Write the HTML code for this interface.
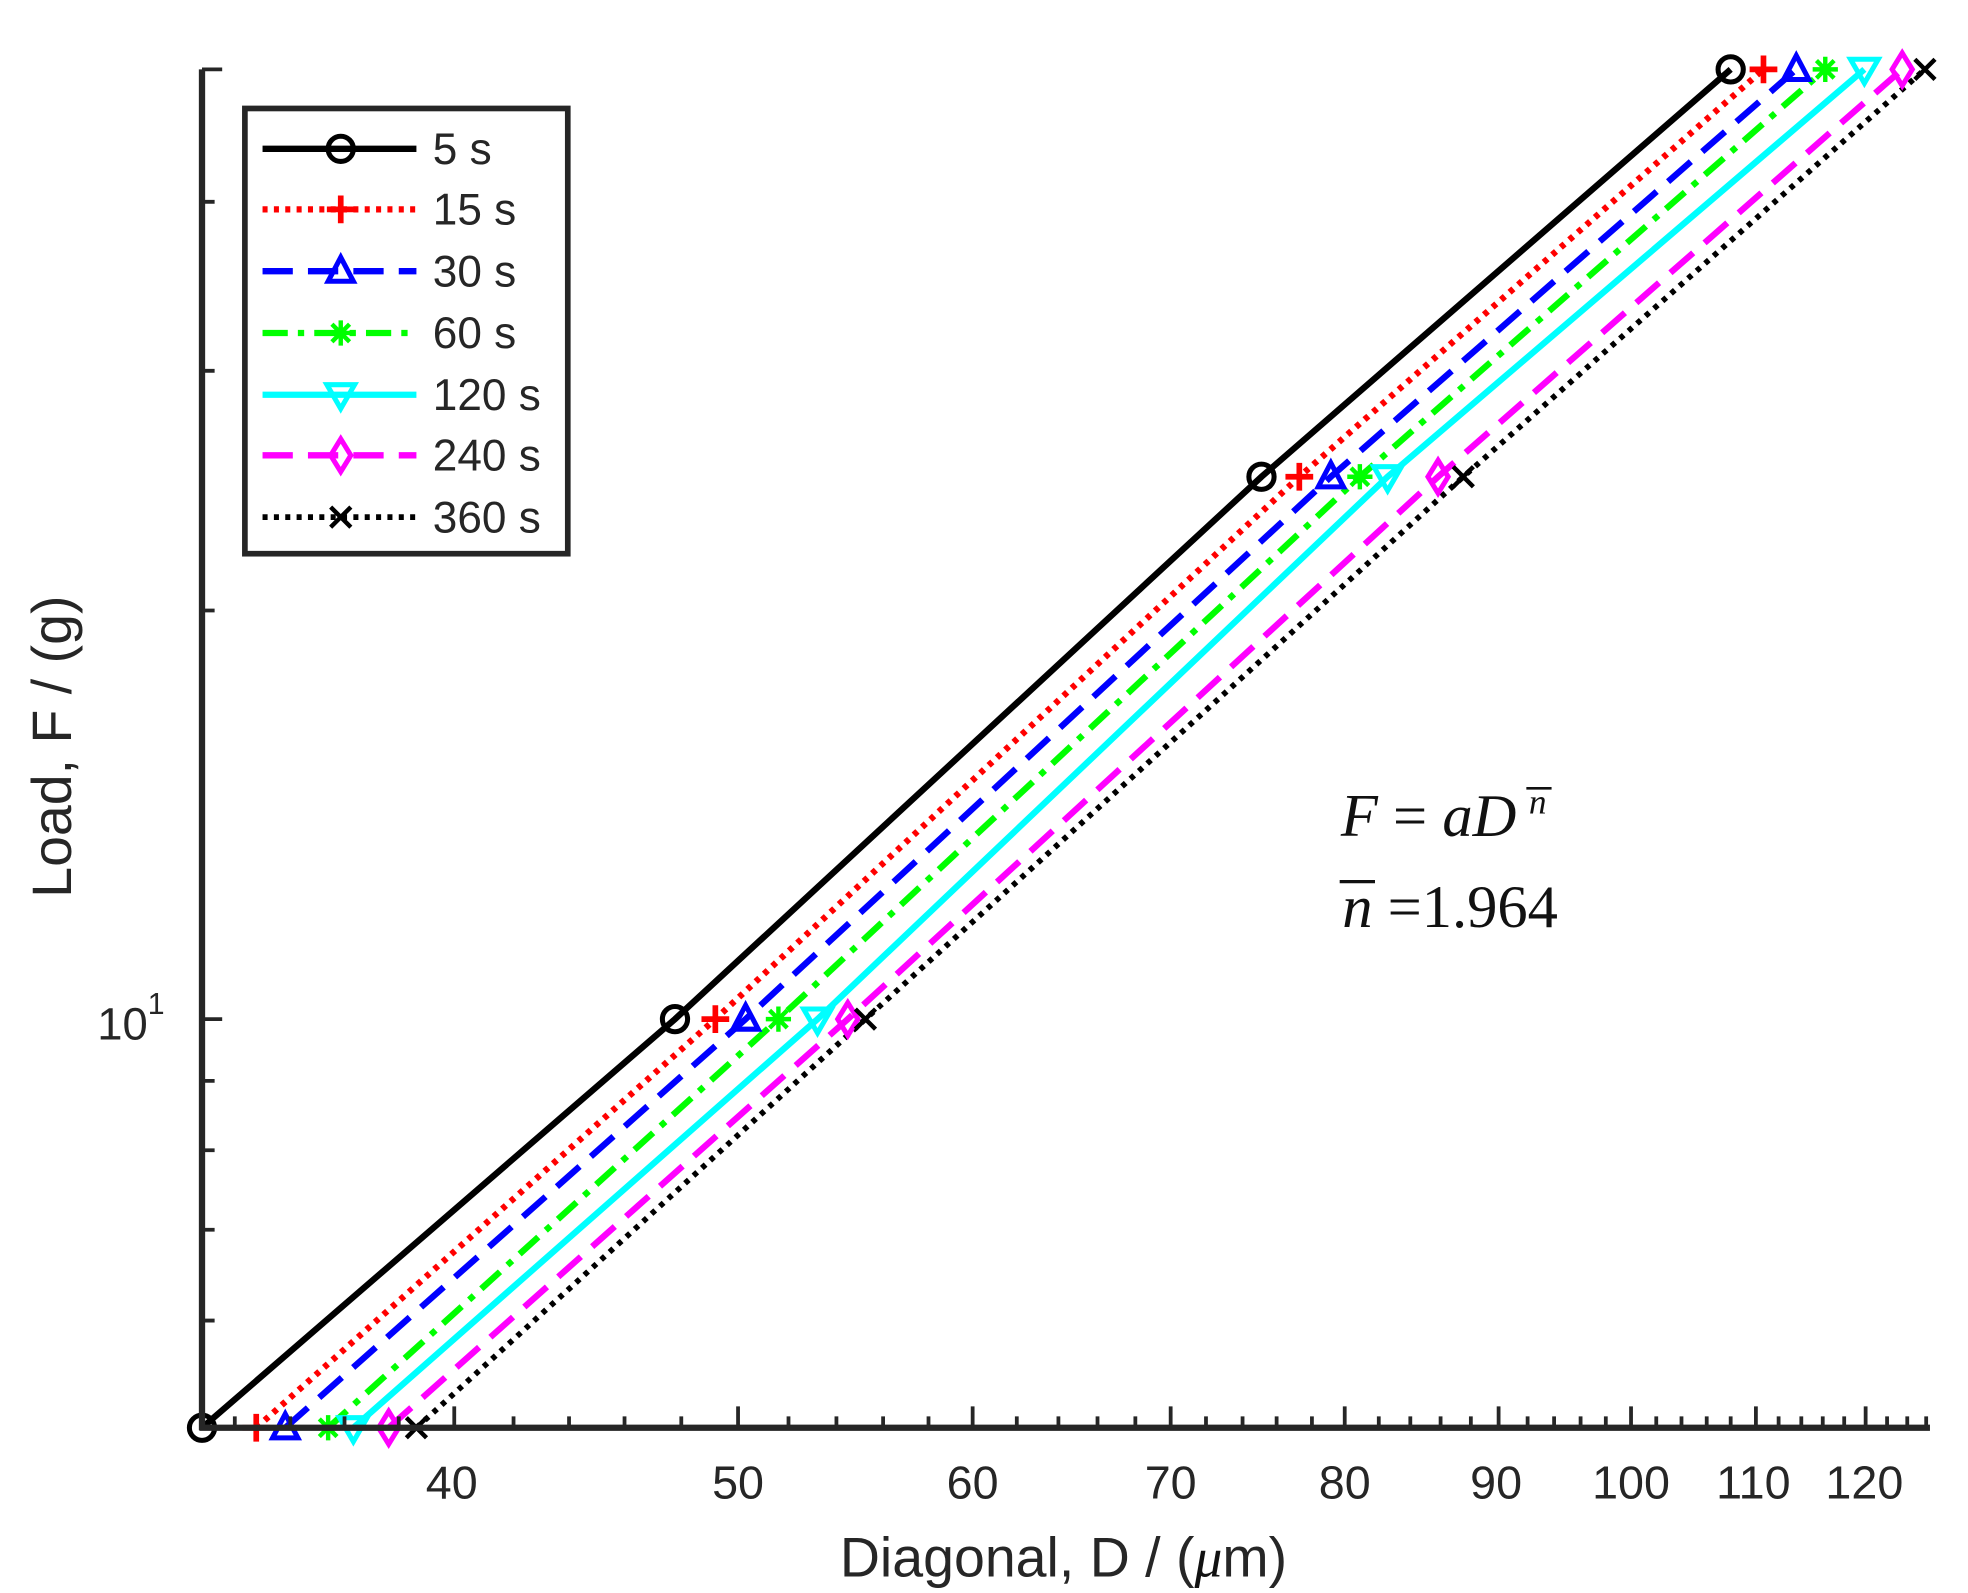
<!DOCTYPE html>
<html><head><meta charset="utf-8"><style>
html,body{margin:0;padding:0;background:#fff;}
svg{display:block;}
text{font-family:"Liberation Sans",sans-serif;fill:#262626;}
.s{font-family:"Liberation Serif",serif;fill:#111;}
</style></head><body>
<svg width="1968" height="1593" viewBox="0 0 1560 1263" xmlns="http://www.w3.org/2000/svg">
<defs>
<g id="mo"><circle cx="0" cy="0" r="10" fill="none" stroke="#000" stroke-width="4"/></g>
<g id="mp"><path d="M-11 0H11M0 -11V11" stroke="#f00" stroke-width="4.5"/></g>
<g id="mt"><path d="M0 -11L10 8H-10Z" fill="none" stroke="#00f" stroke-width="4"/></g>
<g id="ms"><path d="M-10 0H10M0 -10V10M-7 -7L7 7M-7 7L7 -7" stroke="#0f0" stroke-width="3.5"/></g>
<g id="mv"><path d="M0 11L11 -8H-11Z" fill="none" stroke="#0ff" stroke-width="4"/></g>
<g id="md"><path d="M0 -13L8 0L0 13L-8 0Z" fill="none" stroke="#f0f" stroke-width="4"/></g>
<g id="mx"><path d="M-8 -8L8 8M-8 8L8 -8" stroke="#000" stroke-width="3.5"/></g>
</defs>

<polyline points="160,1132 535,808 1000,378 1372,55" fill="none" stroke="#000" stroke-width="5"/>
<polyline points="203,1132 567,808 1030,378 1398,55" fill="none" stroke="#f00" stroke-width="5" stroke-dasharray="4 5"/>
<polyline points="226,1132 591,808 1055,378 1424,55" fill="none" stroke="#00f" stroke-width="5" stroke-dasharray="24 12"/>
<polyline points="260,1132 617,808 1078,378 1447,55" fill="none" stroke="#0f0" stroke-width="5" stroke-dasharray="20 8 5 8"/>
<polyline points="280,1132 648,808 1100,378 1478,55" fill="none" stroke="#0ff" stroke-width="5"/>
<polyline points="308,1132 672,808 1140,378 1508,55" fill="none" stroke="#f0f" stroke-width="5" stroke-dasharray="24 12"/>
<polyline points="330,1132 686,808 1160,378 1526,55" fill="none" stroke="#000" stroke-width="4.5" stroke-dasharray="4 5"/>

<use href="#mo" x="160" y="1132"/><use href="#mo" x="535" y="808"/><use href="#mo" x="1000" y="378"/><use href="#mo" x="1372" y="55"/>
<use href="#mp" x="203" y="1132"/><use href="#mp" x="567" y="808"/><use href="#mp" x="1030" y="378"/><use href="#mp" x="1398" y="55"/>
<use href="#mt" x="226" y="1132"/><use href="#mt" x="591" y="808"/><use href="#mt" x="1055" y="378"/><use href="#mt" x="1424" y="55"/>
<use href="#ms" x="260" y="1132"/><use href="#ms" x="617" y="808"/><use href="#ms" x="1078" y="378"/><use href="#ms" x="1447" y="55"/>
<use href="#mv" x="280" y="1132"/><use href="#mv" x="648" y="808"/><use href="#mv" x="1100" y="378"/><use href="#mv" x="1478" y="55"/>
<use href="#md" x="308" y="1132"/><use href="#md" x="672" y="808"/><use href="#md" x="1140" y="378"/><use href="#md" x="1508" y="55"/>
<use href="#mx" x="330" y="1132"/><use href="#mx" x="686" y="808"/><use href="#mx" x="1160" y="378"/><use href="#mx" x="1526" y="55"/>

<g stroke="#262626" stroke-width="5" fill="none">
<path d="M160 55V1134M158 1132H1530"/>
</g>
<g stroke="#262626" stroke-width="3">
<path d="M160 808H176M160 1047H170M160 975H170M160 912H170M160 857H170M160 484H170M160 294H170M160 160H170M160 55H176"/>
<path d="M360 1132V1115M585 1132V1115M771 1132V1115M928 1132V1115M1066 1132V1115M1188 1132V1115M1293 1132V1115M1392 1132V1115M1479 1132V1115"/>
<path d="M186 1132V1123M230 1132V1123M273 1132V1123M316 1132V1123M407 1132V1123M451 1132V1123M495 1132V1123M540 1132V1123M625 1132V1123M663 1132V1123M700 1132V1123M736 1132V1123M806 1132V1123M839 1132V1123M870 1132V1123M900 1132V1123M956 1132V1123M985 1132V1123M1012 1132V1123M1040 1132V1123M1093 1132V1123M1118 1132V1123M1142 1132V1123M1166 1132V1123M1211 1132V1123M1232 1132V1123M1253 1132V1123M1273 1132V1123M1313 1132V1123M1333 1132V1123M1353 1132V1123M1372 1132V1123M1410 1132V1123M1428 1132V1123M1445 1132V1123M1462 1132V1123M1496 1132V1123M1512 1132V1123M1527 1132V1123"/>
</g>

<g font-size="37" text-anchor="middle">
<text x="358" y="1188">40</text>
<text x="585" y="1188">50</text>
<text x="771" y="1188">60</text>
<text x="928" y="1188">70</text>
<text x="1066" y="1188">80</text>
<text x="1186" y="1188">90</text>
<text x="1293" y="1188">100</text>
<text x="1390" y="1188">110</text>
<text x="1478" y="1188">120</text>
</g>
<text x="77" y="824" font-size="36">10</text>
<text x="117" y="804" font-size="24">1</text>

<text x="843" y="1250" font-size="44" text-anchor="middle">Diagonal, D / (<tspan class="s" font-style="italic">μ</tspan>m)</text>
<text transform="translate(56,592) rotate(-90)" font-size="44" text-anchor="middle">Load, F / (g)</text>

<text class="s" x="1063" y="663" font-size="48"><tspan font-style="italic">F</tspan> = <tspan font-style="italic">aD</tspan></text>
<text class="s" x="1212" y="645" font-size="28" font-style="italic">n</text>
<line x1="1210" y1="625" x2="1230" y2="625" stroke="#111" stroke-width="2"/>
<text class="s" x="1064" y="735" font-size="48"><tspan font-style="italic">n</tspan> =1.964</text>
<line x1="1062" y1="699" x2="1090" y2="699" stroke="#111" stroke-width="2.5"/>

<rect x="194" y="86" width="256" height="353" fill="#fff" stroke="#262626" stroke-width="4.5"/>
<g stroke-width="5" fill="none">
<path d="M208 118H330" stroke="#000"/>
<path d="M208 166H330" stroke="#f00" stroke-dasharray="4 5"/>
<path d="M208 215H330" stroke="#00f" stroke-dasharray="24 12"/>
<path d="M208 264H330" stroke="#0f0" stroke-dasharray="20 8 5 8"/>
<path d="M208 313H330" stroke="#0ff"/>
<path d="M208 361H330" stroke="#f0f" stroke-dasharray="24 12"/>
<path d="M208 410H330" stroke="#000" stroke-width="4.5" stroke-dasharray="4 5"/>
</g>
<use href="#mo" x="270" y="118"/><use href="#mp" x="270" y="166"/><use href="#mt" x="270" y="215"/>
<use href="#ms" x="270" y="264"/><use href="#mv" x="270" y="313"/><use href="#md" x="270" y="361"/><use href="#mx" x="270" y="410"/>
<g font-size="35">
<text x="343" y="130">5 s</text>
<text x="343" y="178">15 s</text>
<text x="343" y="227">30 s</text>
<text x="343" y="276">60 s</text>
<text x="343" y="325">120 s</text>
<text x="343" y="373">240 s</text>
<text x="343" y="422">360 s</text>
</g>
</svg>
</body></html>
